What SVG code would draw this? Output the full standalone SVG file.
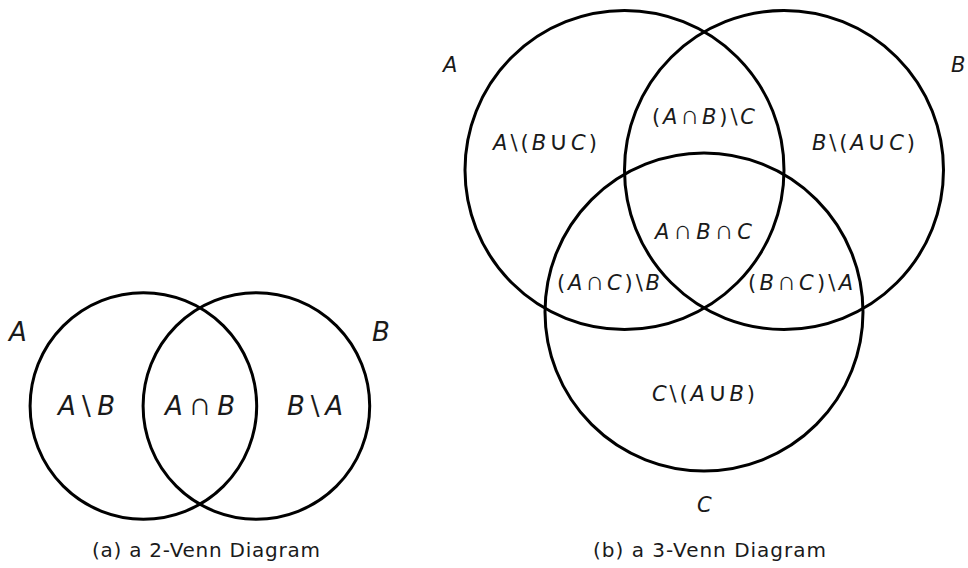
<svg xmlns="http://www.w3.org/2000/svg" width="968" height="568" viewBox="0 0 968 568">
<style>
  .c { fill: none; stroke: #000; stroke-width: 3; }
  .t { font-family: "DejaVu Sans", "Liberation Sans", sans-serif; fill: #1a1a1a; }
  .big { font-size: 26px; }
  .sm { font-size: 21px; }
  .cap { font-family: "DejaVu Sans", "Liberation Sans", sans-serif; font-size: 20px; fill: #1a1a1a; }
  .i { font-style: italic; }
  .op { font-weight: 300; font-size: 125%; }
</style>
<rect width="968" height="568" fill="#fff"/>

<!-- (a) 2-Venn -->
<g id="venn2">
  <g id="v2-A">
    <circle class="c" cx="143.4" cy="406" r="113.3"/>
    <text class="t big i" x="9" y="341">A</text>
  </g>
  <g id="v2-B">
    <circle class="c" cx="256.4" cy="406" r="113.3"/>
    <text class="t big i" x="372" y="341">B</text>
  </g>
  <g id="v2-labels">
    <text class="t big" x="58" y="415" textLength="57" lengthAdjust="spacing"><tspan class="i">A</tspan>\<tspan class="i">B</tspan></text>
    <text class="t big" x="165" y="415" textLength="70" lengthAdjust="spacing"><tspan class="i">A</tspan><tspan class="op">∩</tspan><tspan class="i">B</tspan></text>
    <text class="t big" x="287" y="415" textLength="56" lengthAdjust="spacing"><tspan class="i">B</tspan>\<tspan class="i">A</tspan></text>
  </g>
  <text id="cap-a" class="cap" x="92" y="557" textLength="228" lengthAdjust="spacing">(a) a 2-Venn Diagram</text>
</g>

<!-- (b) 3-Venn -->
<g id="venn3">
  <g id="v3-A">
    <circle class="c" cx="624.5" cy="170" r="159.5"/>
    <text class="t sm i" x="443" y="72">A</text>
  </g>
  <g id="v3-B">
    <circle class="c" cx="784" cy="170" r="159.5"/>
    <text class="t sm i" x="951" y="72">B</text>
  </g>
  <g id="v3-C">
    <circle class="c" cx="704" cy="312" r="159"/>
    <text class="t sm i" x="697" y="512">C</text>
  </g>
  <g id="v3-labels">
    <text class="t sm" x="493" y="150" textLength="104" lengthAdjust="spacing"><tspan class="i">A</tspan>\(<tspan class="i">B</tspan><tspan class="op">∪</tspan><tspan class="i">C</tspan>)</text>
    <text class="t sm" x="812" y="150" textLength="103" lengthAdjust="spacing"><tspan class="i">B</tspan>\(<tspan class="i">A</tspan><tspan class="op">∪</tspan><tspan class="i">C</tspan>)</text>
    <text class="t sm" x="652" y="124" textLength="103" lengthAdjust="spacing">(<tspan class="i">A</tspan><tspan class="op">∩</tspan><tspan class="i">B</tspan>)\<tspan class="i">C</tspan></text>
    <text class="t sm" x="655" y="239" textLength="97" lengthAdjust="spacing"><tspan class="i">A</tspan><tspan class="op">∩</tspan><tspan class="i">B</tspan><tspan class="op">∩</tspan><tspan class="i">C</tspan></text>
    <text class="t sm" x="557" y="290" textLength="103" lengthAdjust="spacing">(<tspan class="i">A</tspan><tspan class="op">∩</tspan><tspan class="i">C</tspan>)\<tspan class="i">B</tspan></text>
    <text class="t sm" x="748" y="290" textLength="105" lengthAdjust="spacing">(<tspan class="i">B</tspan><tspan class="op">∩</tspan><tspan class="i">C</tspan>)\<tspan class="i">A</tspan></text>
    <text class="t sm" x="652" y="401" textLength="103" lengthAdjust="spacing"><tspan class="i">C</tspan>\(<tspan class="i">A</tspan><tspan class="op">∪</tspan><tspan class="i">B</tspan>)</text>
  </g>
  <text id="cap-b" class="cap" x="593" y="557" textLength="233" lengthAdjust="spacing">(b) a 3-Venn Diagram</text>
</g>
</svg>
